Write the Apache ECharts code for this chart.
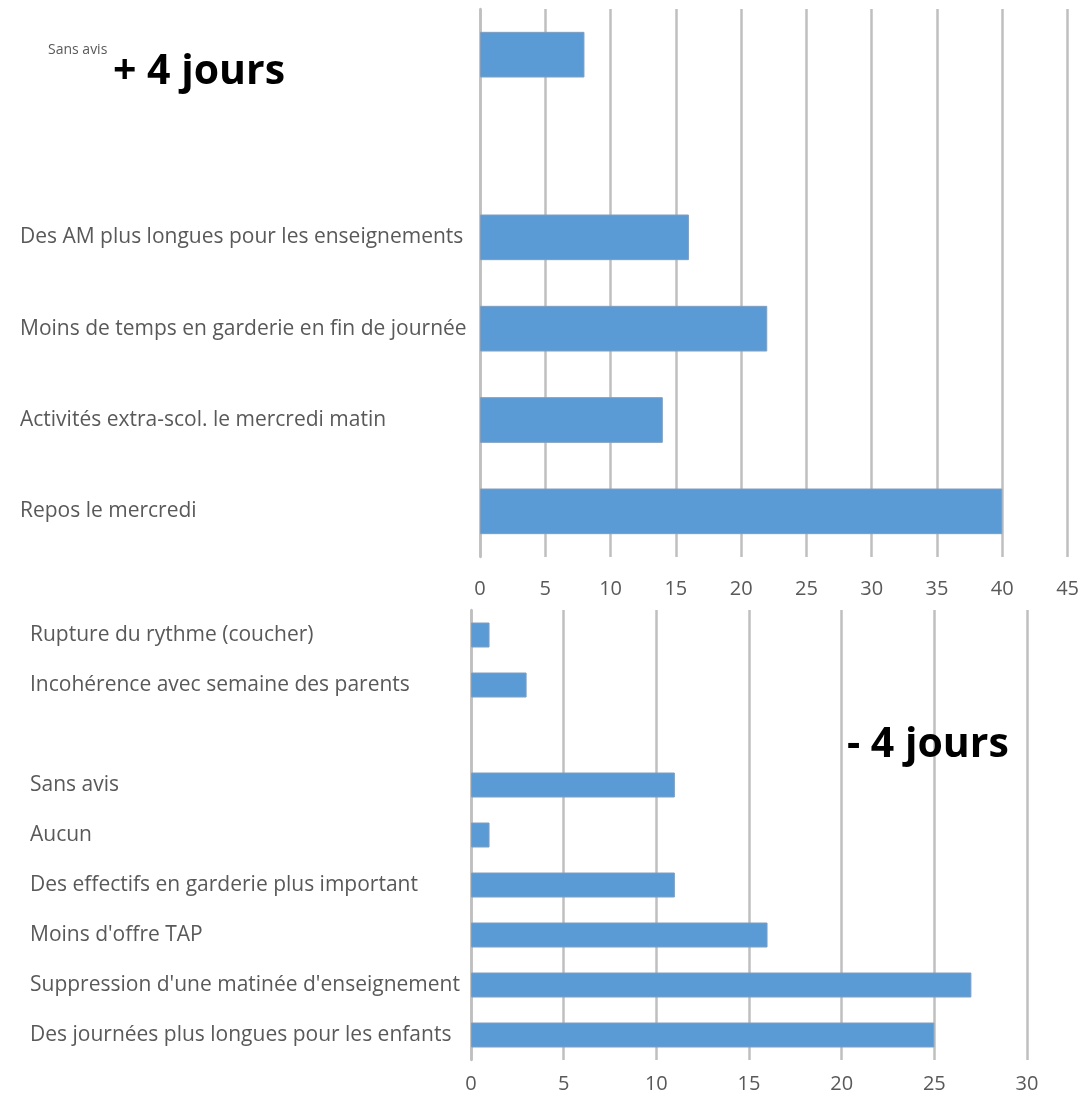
<!DOCTYPE html>
<html>
<head>
<meta charset="utf-8">
<script src="https://cdn.jsdelivr.net/npm/echarts@6/dist/echarts.min.js"></script>
<style>
html,body{margin:0;padding:0;background:#fff;}
#chart{width:1082px;height:1098px;}
</style>
</head>
<body>
<div id="chart"></div>
<script>
// Top chart ("+ 4 jours"), listed bottom to top
const topCategories = [
  'Repos le mercredi',
  'Activités extra-scol. le mercredi matin',
  'Moins de temps en garderie en fin de journée',
  'Des AM plus longues pour les enseignements',
  '',
  'Sans avis'
];
const topValues = [40, 14, 22, 16, null, 8];
const topTicks = { min: 0, max: 45, interval: 5 };

// Bottom chart ("- 4 jours"), listed bottom to top
const bottomCategories = [
  'Des journées plus longues pour les enfants',
  "Suppression d'une matinée d'enseignement",
  "Moins d'offre TAP",
  'Des effectifs en garderie plus important',
  'Aucun',
  'Sans avis',
  '',
  'Incohérence avec semaine des parents',
  'Rupture du rythme (coucher)'
];
const bottomValues = [25, 27, 16, 11, 1, 11, null, 3, 1];
const bottomTicks = { min: 0, max: 30, interval: 5 };

const titles = ['+ 4 jours', '- 4 jours'];

const FONT = "'Open Sans', 'Segoe UI', sans-serif";
const GRID = '#BFBFBF';
const TXT = '#595959';

const chart = echarts.init(document.getElementById('chart'), null, { renderer: 'canvas' });

function xAxisCfg(gridIndex, t, margin) {
  return {
    type: 'value', gridIndex, min: t.min, max: t.max, interval: t.interval,
    axisLine: { show: false }, axisTick: { show: false },
    splitLine: { show: true, lineStyle: { color: GRID, width: 2.5 } },
    axisLabel: { color: TXT, fontFamily: FONT, fontSize: 20, margin }
  };
}
function yAxisCfg(gridIndex, cats, margin, rich) {
  return {
    type: 'category', gridIndex, data: cats,
    axisLine: { show: true, lineStyle: { color: GRID, width: 2.5 } },
    axisTick: { show: false },
    axisLabel: {
      color: TXT, fontFamily: FONT, fontSize: 21, align: 'left', margin,
      formatter: rich ? function (v) { return v === 'Sans avis' ? '{s|' + v + '}' : v; } : undefined,
      rich: rich || undefined
    }
  };
}
const barStyle = { color: '#5B9BD5', borderColor: '#7F9EC0', borderWidth: 1 };

chart.setOption({
  animation: false,
  backgroundColor: '#ffffff',
  grid: [
    { left: 480, right: 13, top: 9, height: 548 },
    { left: 471, right: 55, top: 610, height: 450 }
  ],
  xAxis: [xAxisCfg(0, topTicks, 22), xAxisCfg(1, bottomTicks, 14)],
  yAxis: [
    yAxisCfg(0, topCategories, 460, {
      s: { fontSize: 14, color: TXT, fontFamily: FONT, padding: [0, 0, 9, 28] }
    }),
    yAxisCfg(1, bottomCategories, 441)
  ],
  series: [
    { type: 'bar', xAxisIndex: 0, yAxisIndex: 0, data: topValues, barCategoryGap: '50%', itemStyle: barStyle },
    { type: 'bar', xAxisIndex: 1, yAxisIndex: 1, data: bottomValues, barCategoryGap: '50%', itemStyle: barStyle }
  ],
  graphic: [
    { type: 'text', left: 113, top: 52, z: 100,
      style: { text: titles[0], fill: '#000', font: "bold 41px 'Open Sans', sans-serif" } },
    { type: 'text', left: 847, top: 725, z: 100,
      style: { text: titles[1], fill: '#000', font: "bold 41px 'Open Sans', sans-serif" } }
  ]
});
</script>
</body>
</html>
